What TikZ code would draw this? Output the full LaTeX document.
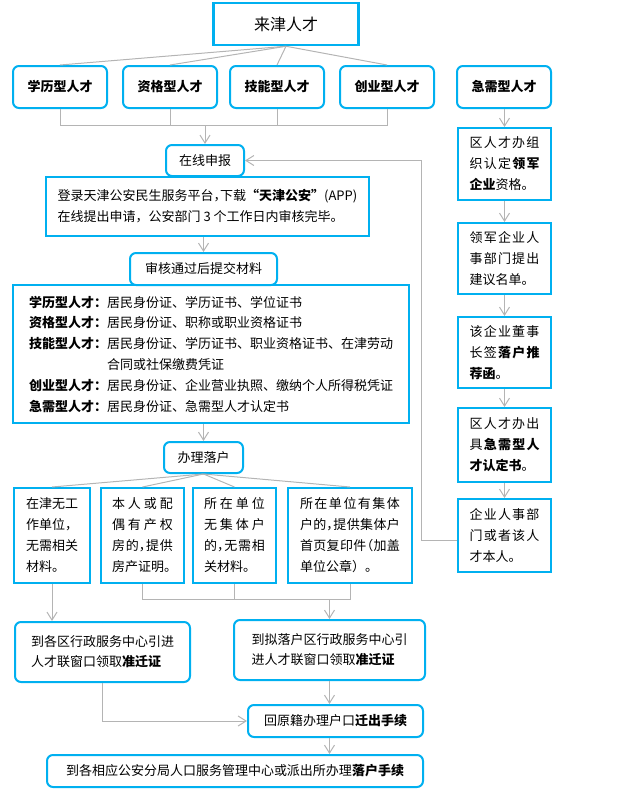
\documentclass[tikz,border=0pt]{standalone}
\usepackage{fontspec}
\setmainfont{Noto Sans CJK SC}
\usetikzlibrary{arrows.meta}
\definecolor{bl}{RGB}{0,176,240}
\definecolor{gl}{RGB}{180,180,180}
\def\SPend{\SPendmark}
\def\SPgob#1{}
\def\SP#1{\SPi#1\SPend}
\def\SPi#1#2{#1\ifx\SPend#2\expandafter\SPgob\else\hfil\expandafter\SPi\fi#2}
\newcommand\SL[2]{\leavevmode\hbox to #1pt{#2}}
\newcommand\hc{\makebox[.5em][l]{，}}
\newcommand\hop{\makebox[.5em][r]{（}}
\begin{document}
\begin{tikzpicture}[x=1pt,y=-1pt,
  every node/.style={inner sep=0pt, font=\fontsize{13}{21}\selectfont},
  sqbox/.style={draw=bl, line width=2pt, align=left},
  rdbox/.style={sqbox, rounded corners=6pt},
  ln/.style={draw=gl, line width=1pt},
  arr/.style={ln, -{Straight Barb[length=8pt,width=10pt]}}]
\useasboundingbox (0,0) rectangle (635,795);

% top
\node[sqbox, line width=2.5pt, minimum width=145pt, minimum height=42pt, font=\fontsize{16}{20}\selectfont] (T) at (286,24) {来津人才};
\node[rdbox, minimum width=94pt, minimum height=42pt] (r1) at (60,87) {\textbf{学历型人才}};
\node[rdbox, minimum width=94pt, minimum height=42pt] (r2) at (170,87) {\textbf{资格型人才}};
\node[rdbox, minimum width=94pt, minimum height=42pt] (r3) at (277,87) {\textbf{技能型人才}};
\node[rdbox, minimum width=94pt, minimum height=42pt] (r4) at (387,87) {\textbf{创业型人才}};
\node[rdbox, minimum width=94pt, minimum height=42pt] (r5) at (504,87) {\textbf{急需型人才}};

% main column
\node[rdbox, minimum width=78pt, minimum height=31pt] (S) at (205,160.5) {在线申报};
\node[sqbox, minimum width=323pt, minimum height=59pt] (L) at (207.5,206.5) {登录天津公安民生服务平台\hc 下载\textbf{“天津公安”}(APP)\\在线提出申请，公安部门 3 个工作日内审核完毕。};
\node[rdbox, minimum width=147pt, minimum height=32pt] (V) at (203.5,269) {审核通过后提交材料};
\node[sqbox, minimum width=396pt, minimum height=138pt, font=\fontsize{13}{20.8}\selectfont] (M) at (211,354) {%
\textbf{学历型人才：}居民身份证、学历证书、学位证书\\
\textbf{资格型人才：}居民身份证、职称或职业资格证书\\
\textbf{技能型人才：}居民身份证、学历证书、职业资格证书、在津劳动\\
\hspace*{78pt}合同或社保缴费凭证\\
\textbf{创业型人才：}居民身份证、企业营业执照、缴纳个人所得税凭证\\
\textbf{急需型人才：}居民身份证、急需型人才认定书};
\node[rdbox, minimum width=79pt, minimum height=31pt] (H) at (203.5,457.5) {办理落户};

% four cases
\node[sqbox, minimum width=76pt, minimum height=95pt] (A) at (52,535.5) {在津无工\\作单位\hc\\无需相关\\材料。};
\node[sqbox, minimum width=83pt, minimum height=95pt] (B) at (142.5,535.5) {\SL{61}{\SP{本人或配}}\\\SL{61}{\SP{偶有产权}}\\\SL{61}{房\hfil 的\hc\hfil 提\hfil 供}\\\makebox[61pt][l]{房产证明。}};
\node[sqbox, minimum width=83pt, minimum height=95pt] (C) at (234.5,535.5) {\SL{61}{\SP{所在单位}}\\\SL{61}{\SP{无集体户}}\\\SL{61}{的\hc\hfil 无\hfil 需\hfil 相}\\关材料。};
\node[sqbox, minimum width=124pt, minimum height=95pt] (D) at (350,535.5) {\SL{100}{\SP{所在单位有集体}}\\\SL{100}{户\hfil 的\hc\hfil\SP{提供集体户}}\\\SL{100}{\SP{首页复印件}\hfil\hop\hfil\SP{加盖}}\\单位公章）。};

% lower part
\node[rdbox, minimum width=175pt, minimum height=60pt, font=\fontsize{13}{20}\selectfont] (P) at (102.5,652) {到各区行政服务中心引进\\人才联窗口领取\textbf{准迁证}};
\node[rdbox, minimum width=191pt, minimum height=60pt, font=\fontsize{13}{20}\selectfont] (Q) at (329.5,650) {到拟落户区行政服务中心引\\进人才联窗口领取\textbf{准迁证}};
\node[rdbox, minimum width=175pt, minimum height=32pt] (R) at (335.5,721) {回原籍办理户口\textbf{迁出手续}};
\node[rdbox, minimum width=376pt, minimum height=32pt] (F) at (235,771) {到各相应公安分局人口服务管理中心或派出所办理\textbf{落户手续}};

% right column
\node[sqbox, minimum width=93pt, minimum height=72pt] (J1) at (504.5,164) {\SL{70}{\SP{区人才办组}}\\\SL{70}{\SP{织认定}\hfil\textbf{\SP{领军}}}\\\textbf{企业}资格。};
\node[sqbox, minimum width=93pt, minimum height=71pt] (J2) at (504.5,258.5) {\SL{70}{\SP{领军企业人}}\\\SL{70}{\SP{事部门提出}}\\建议名单。};
\node[sqbox, minimum width=93pt, minimum height=71pt] (J3) at (504.5,352.5) {\SL{70}{\SP{该企业董事}}\\\SL{70}{\SP{长签}\hfil\textbf{\SP{落户推}}}\\\textbf{荐函}。};
\node[sqbox, minimum width=93pt, minimum height=74pt] (J4) at (504.5,445) {\SL{70}{\SP{区人才办出}}\\\SL{70}{具\hfil\textbf{\SP{急需型人}}}\\\textbf{才认定书}。};
\node[sqbox, minimum width=93pt, minimum height=73pt] (J5) at (504.5,535.5) {\SL{70}{\SP{企业人事部}}\\\SL{70}{\SP{门或者该人}}\\才本人。};

% connectors: top fan
\foreach \n in {r1,r2,r3,r4} \draw[ln] (T.south) -- (\n.north);
\coordinate (jn) at (205,125);
\foreach \n in {r1,r2,r3,r4} \draw[ln] (\n.south) |- (jn);
\draw[arr] (jn) -- (S.north);
\draw[arr] (V.north |- L.south) -- (V.north);
\draw[arr] (H.north |- M.south) -- (H.north);
\foreach \n in {A,B,C,D} \draw[ln] (H.south) -- (\n.north);
\draw[arr] (A.south) -- (A.south |- P.north);
\coordinate (jq) at (329.5,599);
\draw[ln] (B.south) |- (jq);
\draw[ln] (D.south) |- (jq);
\draw[ln] (C.south) -- (C.south |- jq);
\draw[arr] (jq) -- (Q.north);
\draw[arr] (Q.south) -- (Q.south |- R.north);
\draw[arr] (P.south) |- (R.west);
\draw[arr] (R.south -| Q.south) -- (Q.south |- F.north);
% right column
\draw[arr] (r5.south -| J1.north) -- (J1.north);
\draw[arr] (J1) -- (J2);
\draw[arr] (J2) -- (J3);
\draw[arr] (J3) -- (J4);
\draw[arr] (J4) -- (J5);
\coordinate (fb) at (421,540);
\draw[arr] (J5.west |- fb) -- (fb) |- (S.east);
\end{tikzpicture}
\end{document}
